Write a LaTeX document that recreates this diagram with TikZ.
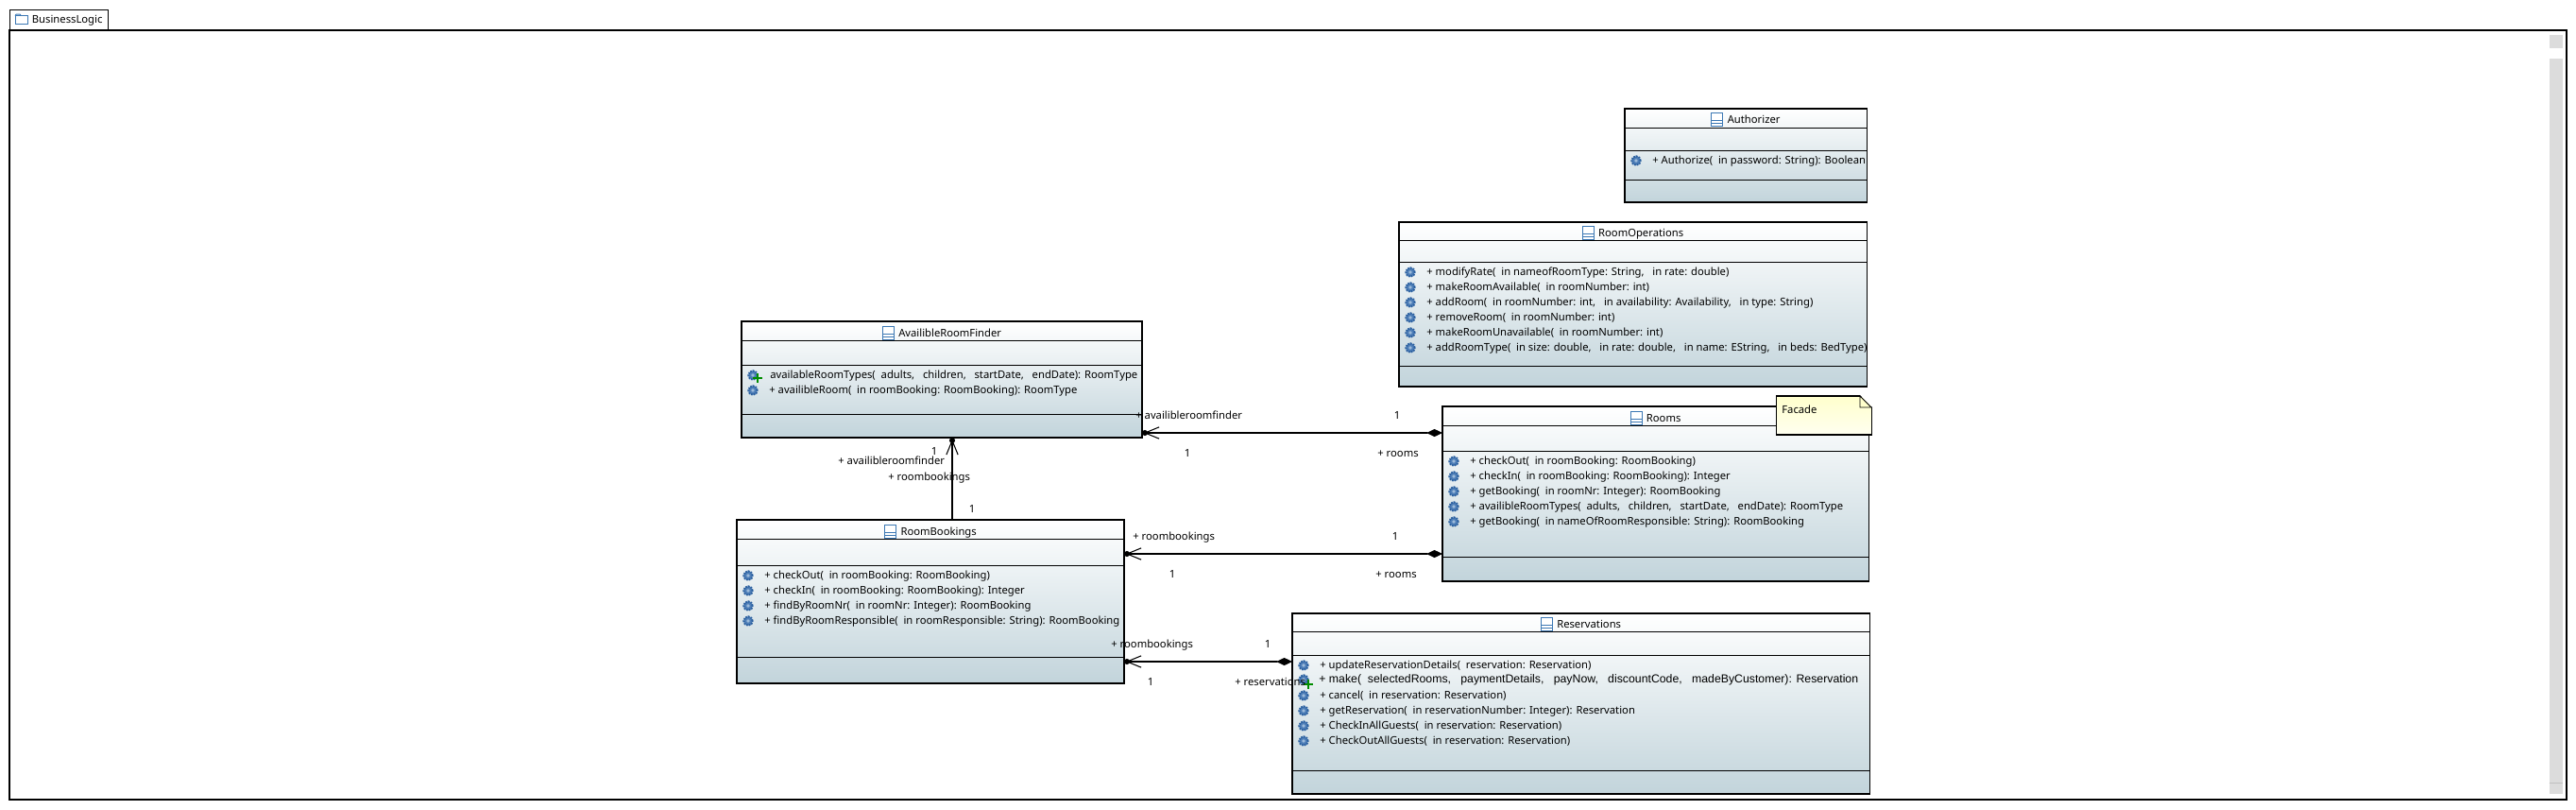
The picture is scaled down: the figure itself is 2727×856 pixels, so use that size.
\documentclass[tikz,border=0pt]{standalone}
\usepackage{fontspec}
\setmainfont{Noto Sans}
\newfontfamily\makefont{Liberation Sans}
\usetikzlibrary{shapes.misc,arrows.meta,positioning,calc}
\definecolor{classbottom}{HTML}{C2D4DB}
\definecolor{iconblue}{HTML}{3C78B4}
\definecolor{gearblue}{HTML}{4F7FB8}
\definecolor{gearedge}{HTML}{2A5F9F}
\definecolor{gearlight}{HTML}{9DBBDA}
\definecolor{notetop}{HTML}{FFFFCC}
\definecolor{notebottom}{HTML}{FFFFF0}
\definecolor{scrollgray}{HTML}{DCDCDC}
\newcommand{\pxu}{0.02cm}
\newcommand{\classicon}{\tikz[baseline=-2.4pt,x=1pt,y=1pt]{\draw[iconblue,fill=white,line width=0.45pt] (0,-4) rectangle (6.8,4); \draw[iconblue,line width=0.45pt] (0,-0.8) -- (6.8,-0.8) (0,-2.4) -- (6.8,-2.4);}\hspace{2.6pt}}
\newcommand{\foldericon}{\tikz[baseline=-2.4pt,x=1pt,y=1pt]{\draw[iconblue,fill=white,line width=0.45pt] (0,-3) rectangle (7.4,2.2); \draw[iconblue,line width=0.45pt] (0,2.2) -- (0.6,3) -- (3,3) -- (3.6,2.2);}\hspace{2.6pt}}
\tikzstyle{classbox}=[rectangle,draw,outer sep=0pt,line width=0.6pt,top color=white,bottom color=classbottom]
\tikzstyle{classtitle}=[inner sep=0pt,font=\fontsize{6.4}{8}\selectfont]
\tikzstyle{compline}=[line width=0.55pt]
\tikzstyle{optext}=[anchor=west,inner sep=0pt,text height=5.2pt,text depth=1.6pt,font=\fontsize{6.4}{8}\selectfont]
\tikzstyle{lbl}=[inner sep=0pt,text height=5.2pt,text depth=1.6pt,font=\fontsize{6.4}{8}\selectfont]
\tikzstyle{opgear}=[circle,inner sep=0pt,minimum size=5.4pt,fill=gearblue,draw=gearedge,line width=1.1pt,dash pattern=on 1pt off 0.6pt,path picture={\fill[gearlight] (path picture bounding box.center) circle (1.1pt);}]
\tikzstyle{addmark}=[cross out,draw=green!55!black,line width=0.9pt,inner sep=0pt,minimum size=2.8pt,rotate=45]
\tikzstyle{assoc}=[-{Straight Barb[length=8.5pt,width=7pt,sep=-2.4pt]Circle[length=3.4pt]},line width=0.6pt]
\tikzstyle{comp}=[{Diamond[length=9.6pt,width=4.6pt]}-{Straight Barb[length=8.5pt,width=7pt,sep=-2.4pt]Circle[length=3.4pt]},line width=0.6pt]
\begin{document}
\begin{tikzpicture}[x=\pxu,y=-\pxu]
\useasboundingbox (0,0) rectangle (2727,856);
% package frame
\node[rectangle,draw,outer sep=0pt,line width=0.7pt,minimum width=2707*\pxu,minimum height=814*\pxu,anchor=north west] (frame) at (10,32) {};
\node[rectangle,draw,outer sep=0pt,line width=0.55pt,minimum width=104*\pxu,minimum height=22*\pxu,anchor=south west,inner sep=0pt,font=\fontsize{6.4}{8}\selectfont] (tab) at (frame.north west) {\foldericon BusinessLogic};
\node[fill=scrollgray,minimum width=14*\pxu,minimum height=14*\pxu,inner sep=0pt] (scrollup) at (2706,44) {};
\node[fill=scrollgray,minimum width=14*\pxu,minimum height=778*\pxu,inner sep=0pt,anchor=north] (scrollbar) at (2706,62) {};
\draw[gray!50,line width=0.4pt] (scrollbar.west |- 0,828) -- (scrollbar.east |- 0,828);

% classes
\node[classbox,minimum width=256*\pxu,minimum height=99*\pxu,anchor=north west] (authorizer) at (1720,115) {};
\node[classbox,minimum width=495*\pxu,minimum height=174*\pxu,below=0.42cm of authorizer.south east,anchor=north east] (roomops) {};
\node[classbox,minimum width=451*\pxu,minimum height=185*\pxu,below=0.42cm of roomops.south east,anchor=north east,xshift=0.04cm] (rooms) {};
\node[classbox,minimum width=611*\pxu,minimum height=191*\pxu,below=0.68cm of rooms.south east,anchor=north east,xshift=0.02cm] (reservations) {};
\node[classbox,minimum width=424*\pxu,minimum height=123*\pxu,anchor=north west] (finder) at (785,340) {};
\node[classbox,minimum width=410*\pxu,minimum height=173*\pxu,below=1.74cm of finder.south west,anchor=north west,xshift=-0.1cm] (bookings) {};
\foreach \cname/\y in {authorizer/135,authorizer/159,authorizer/190,roomops/254,roomops/277,roomops/387,rooms/450,rooms/477,rooms/589,reservations/668,reservations/693,reservations/815,finder/360,finder/386,finder/438,bookings/570,bookings/598,bookings/695}
  \draw[compline] (\cname.west |- 0,\y) -- (\cname.east |- 0,\y);

% titles
\node[classtitle] (authorizer-title) at (authorizer.north |- 0,126) {\classicon Authorizer};
\node[classtitle] (roomops-title) at (roomops.north |- 0,246) {\classicon RoomOperations};
\node[classtitle] (rooms-title) at (rooms.north |- 0,442) {\classicon Rooms};
\node[classtitle] (reservations-title) at (reservations.north |- 0,660) {\classicon Reservations};
\node[classtitle] (finder-title) at (finder.north |- 0,352) {\classicon AvailibleRoomFinder};
\node[classtitle] (bookings-title) at (bookings.north |- 0,562) {\classicon RoomBookings};

% operations
\node[opgear] (authorizer-gear) at (1732,170) {};
\node[optext] (authorizer-op) at (1749,170) {+ Authorize(\ \ in password: String): Boolean};
\foreach \y/\txt in {288/{+ modifyRate(\ \ in nameofRoomType: String,\ \ \ in rate: double)},304/{+ makeRoomAvailable(\ \ in roomNumber: int)},320/{+ addRoom(\ \ in roomNumber: int,\ \ \ in availability: Availability,\ \ \ in type: String)},336/{+ removeRoom(\ \ in roomNumber: int)},352/{+ makeRoomUnavailable(\ \ in roomNumber: int)},368/{+ addRoomType(\ \ in size: double,\ \ \ in rate: double,\ \ \ in name: EString,\ \ \ in beds: BedType)}}{
  \node[opgear] (roomops-gear-\y) at (1493,\y) {};
  \node[optext] (roomops-op-\y) at (1510,\y) {\txt};
}
\foreach \y/\txt in {488/{+ checkOut(\ \ in roomBooking: RoomBooking)},504/{+ checkIn(\ \ in roomBooking: RoomBooking): Integer},520/{+ getBooking(\ \ in roomNr: Integer): RoomBooking},536/{+ availibleRoomTypes(\ \ adults,\ \ \ children,\ \ \ startDate,\ \ \ endDate): RoomType},552/{+ getBooking(\ \ in nameOfRoomResponsible: String): RoomBooking}}{
  \node[opgear] (rooms-gear-\y) at (1539,\y) {};
  \node[optext] (rooms-op-\y) at (1556,\y) {\txt};
}
\foreach \y/\txt in {704/{+ updateReservationDetails(\ \ reservation: Reservation)},736/{+ cancel(\ \ in reservation: Reservation)},752/{+ getReservation(\ \ in reservationNumber: Integer): Reservation},768/{+ CheckInAllGuests(\ \ in reservation: Reservation)},784/{+ CheckOutAllGuests(\ \ in reservation: Reservation)}}{
  \node[opgear] (reservations-gear-\y) at (1380,\y) {};
  \node[optext] (reservations-op-\y) at (1397,\y) {\txt};
}
\node[opgear] (reservations-gear-make) at (1380,719) {};
\node[addmark] (reservations-add) at (1385,724) {};
\node[optext,font=\makefont\fontsize{7}{8}\selectfont] (reservations-make) at (1396,719) {+ make(\ \ selectedRooms,\ \ \ paymentDetails,\ \ \ payNow,\ \ \ discountCode,\ \ \ madeByCustomer): Reservation};
\node[opgear] (finder-gear-397) at (797,397) {};
\node[addmark] (finder-add) at (802,400) {};
\node[optext] (finder-op-397) at (815,397) {availableRoomTypes(\ \ adults,\ \ \ children,\ \ \ startDate,\ \ \ endDate): RoomType};
\node[opgear] (finder-gear-413) at (797,413) {};
\node[optext] (finder-op-413) at (814,413) {+ availibleRoom(\ \ in roomBooking: RoomBooking): RoomType};
\foreach \y/\txt in {609/{+ checkOut(\ \ in roomBooking: RoomBooking)},625/{+ checkIn(\ \ in roomBooking: RoomBooking): Integer},641/{+ findByRoomNr(\ \ in roomNr: Integer): RoomBooking},657/{+ findByRoomResponsible(\ \ in roomResponsible: String): RoomBooking}}{
  \node[opgear] (bookings-gear-\y) at (792,\y) {};
  \node[optext] (bookings-op-\y) at (809,\y) {\txt};
}

% note
\node[rectangle,draw,outer sep=0pt,line width=0.6pt,top color=notetop,bottom color=notebottom,minimum width=101*\pxu,minimum height=41*\pxu,anchor=north west] (facade) at (1880,419) {};
\fill[white] ($(facade.north east)+(-12,-1)$) -- ($(facade.north east)+(1,-1)$) -- ($(facade.north east)+(1,12)$) -- cycle;
\draw[line width=0.5pt,fill=notetop] ($(facade.north east)+(-12,0)$) -- ($(facade.north east)+(-12,12)$) -- ($(facade.north east)+(0,12)$) -- cycle;
\node[optext] (facade-text) at (1886,434) {Facade};

% associations
\draw[comp] (rooms.west |- 0,458) -- (finder.east |- 0,458);
\draw[comp] (rooms.west |- 0,586) -- (bookings.east |- 0,586);
\draw[comp] (reservations.west |- 0,700) -- (bookings.east |- 0,700);
\draw[assoc] (bookings.north -| 1008,0) -- (finder.south -| 1008,0);

% association ends
\node[lbl,anchor=west] (lblfinder) at (1202,440) {+ availibleroomfinder};
\node[lbl] (lblone1) at (1479,440) {1};
\node[lbl] (lblone2) at (1257,480) {1};
\node[lbl] (lblrooms1) at (1480,480) {+ rooms};
\node[lbl,anchor=west] (lblbook1) at (1199,568) {+ roombookings};
\node[lbl] (lblone3) at (1477,568) {1};
\node[lbl] (lblone4) at (1241,608) {1};
\node[lbl] (lblrooms2) at (1478,608) {+ rooms};
\node[lbl,anchor=west] (lblbook2) at (1176,682) {+ roombookings};
\node[lbl] (lblone5) at (1342,682) {1};
\node[lbl] (lblone6) at (1218,722) {1};
\node[lbl,anchor=west] (lblres) at (1307,722) {+ reservations};
\node[lbl] (lblone7) at (989,478) {1};
\node[lbl,anchor=west] (lblfinder2) at (887,488) {+ availibleroomfinder};
\node[lbl,anchor=west] (lblbook3) at (940,505) {+ roombookings};
\node[lbl] (lblone8) at (1029,539) {1};
\end{tikzpicture}
\end{document}
